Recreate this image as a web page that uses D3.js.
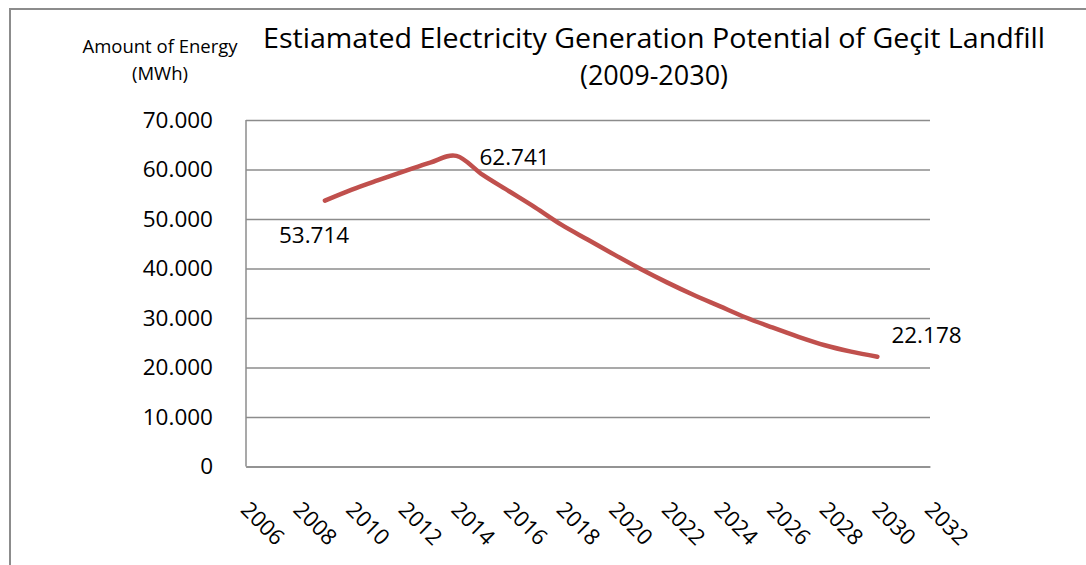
<!DOCTYPE html>
<html><head><meta charset="utf-8">
<script src="https://cdn.jsdelivr.net/npm/d3@7/dist/d3.min.js"></script>
<style>body{margin:0;background:#fff}svg{display:block}</style>
</head><body>
<svg id="c" width="1086" height="565"></svg>
<script>
const years = [2009,2010,2011,2012,2013,2014,2015,2016,2017,2018,2019,2020,2021,2022,2023,2024,2025,2026,2027,2028,2029,2030];
const energy = [53714,55900,57800,59600,61400,62741,58900,55600,52300,48800,45800,42800,39900,37200,34700,32400,30100,28100,26200,24500,23200,22178];
const xTicks = [2006,2008,2010,2012,2014,2016,2018,2020,2022,2024,2026,2028,2030,2032];
const yTicks = [0,10000,20000,30000,40000,50000,60000,70000];
const labelled = [{year:2009,value:53714,dx:-46,dy:42},{year:2014,value:62741,dx:23,dy:9},{year:2030,value:22178,dx:14,dy:-14}];
const title = ["Estiamated Electricity Generation Potential of Geçit Landfill","(2009-2030)"];
const yTitle = ["Amount of Energy","(MWh)"];

const svg = d3.select("#c");
const font = "'Open Sans', 'Liberation Sans', Arial, sans-serif";
const L=246,R=930,T=120,B=466.5;
const x = d3.scaleLinear().domain([2006,2032]).range([L,R]);
const y = d3.scaleLinear().domain([0,70000]).range([B,T]);
const fmt = v => v===0 ? "0" : d3.format(",.0f")(v).replace(/,/g,".");
const fmt3 = v => (v/1000).toFixed(3);

// outer border (top + left)
svg.append("path").attr("d","M10,566 L10,9 L1087,9").attr("fill","none").attr("stroke","#8c8c8c").attr("stroke-width",2);

// gridlines
const gy = svg.append("g").attr("transform",`translate(${L},0)`)
  .call(d3.axisLeft(y).tickValues(yTicks).tickSize(-(R-L)).tickFormat(fmt).tickPadding(33));
gy.select(".domain").remove();
gy.selectAll(".tick line").attr("stroke","#8c8c8c").attr("stroke-width",1.5);
gy.selectAll(".tick text").attr("font-family",font).attr("font-size",22.5).attr("fill","#000");
// left axis line
svg.append("line").attr("x1",L).attr("x2",L).attr("y1",T).attr("y2",B).attr("stroke","#8c8c8c").attr("stroke-width",1.5);

// x axis labels
const gx = svg.append("g").attr("transform",`translate(0,${B})`)
  .call(d3.axisBottom(x).tickValues(xTicks).tickSize(0).tickFormat(d3.format("d")));
gx.select(".domain").attr("stroke","#8c8c8c").attr("stroke-width",1.5);
gx.selectAll(".tick text").attr("font-family",font).attr("font-size",22).attr("fill","#000")
  .attr("text-anchor","start").attr("dy",0).attr("y",0)
  .attr("transform","translate(-7,44.5) rotate(45)");

// line
const line = d3.line().x((d,i)=>x(years[i])).y(d=>y(d)).curve(d3.curveCardinal.tension(0));
svg.append("path").datum(energy).attr("d",line).attr("fill","none").attr("stroke","#C0504D")
  .attr("stroke-width",4.5).attr("stroke-linecap","round").attr("stroke-linejoin","round");

// data labels
svg.selectAll(".dl").data(labelled).enter().append("text")
  .attr("x",d=>x(d.year)+d.dx).attr("y",d=>y(d.value)+d.dy)
  .attr("font-family",font).attr("font-size",22.5).attr("fill","#000")
  .text(d=>fmt3(d.value));

// title
svg.append("text").attr("x",654).attr("y",48).attr("text-anchor","middle").attr("font-family",font).attr("font-size",27)
  .attr("textLength",782).attr("lengthAdjust","spacingAndGlyphs").text(title[0]);
svg.append("text").attr("x",654).attr("y",85).attr("text-anchor","middle").attr("font-family",font).attr("font-size",27).text(title[1]);
// y title
svg.append("text").attr("x",160).attr("y",53).attr("text-anchor","middle").attr("font-family",font).attr("font-size",18.5).text(yTitle[0]);
svg.append("text").attr("x",160).attr("y",80).attr("text-anchor","middle").attr("font-family",font).attr("font-size",18.5).text(yTitle[1]);
</script>
</body></html>
